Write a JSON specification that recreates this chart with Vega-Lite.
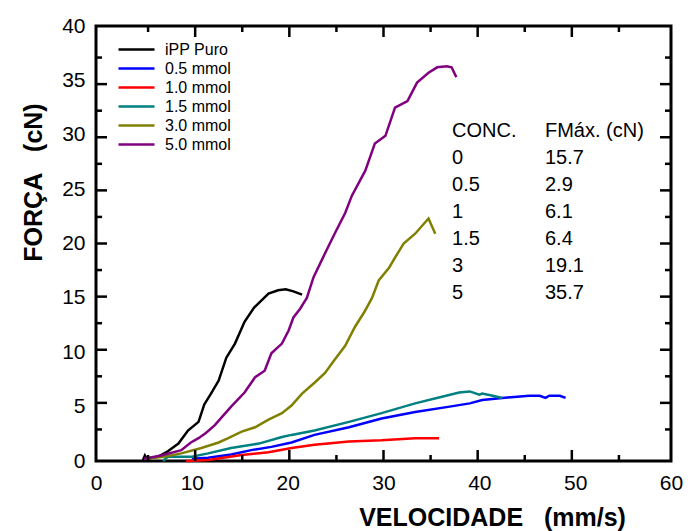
{
  "$schema": "https://vega.github.io/schema/vega-lite/v6.json",
  "width": 575,
  "height": 435,
  "autosize": {"type": "none"},
  "padding": {"left": 96, "top": 26, "right": 17, "bottom": 70},
  "background": "white",
  "config": {
    "view": {"stroke": "black", "strokeWidth": 3},
    "font": "Liberation Sans",
    "axis": {
      "domain": false,
      "grid": false,
      "ticks": false,
      "labelColor": "black",
      "labelFont": "Liberation Sans",
      "labelFontSize": 21,
      "labelPadding": 11,
      "titleFont": "Liberation Sans",
      "titleColor": "black",
      "titleFontSize": 25,
      "titleFontWeight": "bold"
    }
  },
  "datasets": {
    "curves": [
      {"s": "iPP Puro", "v": 4.9, "f": 0.1}, {"s": "iPP Puro", "v": 5.1, "f": 0.5}, {"s": "iPP Puro", "v": 5.3, "f": 0.2},
      {"s": "iPP Puro", "v": 6.5, "f": 0.4}, {"s": "iPP Puro", "v": 7.5, "f": 0.9}, {"s": "iPP Puro", "v": 8.6, "f": 1.6},
      {"s": "iPP Puro", "v": 9.6, "f": 2.8}, {"s": "iPP Puro", "v": 10.7, "f": 3.6}, {"s": "iPP Puro", "v": 11.3, "f": 5.2},
      {"s": "iPP Puro", "v": 12.0, "f": 6.2}, {"s": "iPP Puro", "v": 12.8, "f": 7.4}, {"s": "iPP Puro", "v": 13.6, "f": 9.5},
      {"s": "iPP Puro", "v": 14.5, "f": 10.8}, {"s": "iPP Puro", "v": 15.5, "f": 12.8}, {"s": "iPP Puro", "v": 16.5, "f": 14.1},
      {"s": "iPP Puro", "v": 17.3, "f": 14.8}, {"s": "iPP Puro", "v": 18.0, "f": 15.4}, {"s": "iPP Puro", "v": 19.0, "f": 15.7},
      {"s": "iPP Puro", "v": 19.8, "f": 15.8}, {"s": "iPP Puro", "v": 20.6, "f": 15.6}, {"s": "iPP Puro", "v": 21.5, "f": 15.3},

      {"s": "0.5 mmol", "v": 10.0, "f": 0.2}, {"s": "0.5 mmol", "v": 11.7, "f": 0.3}, {"s": "0.5 mmol", "v": 14.1, "f": 0.6},
      {"s": "0.5 mmol", "v": 16.2, "f": 1.0}, {"s": "0.5 mmol", "v": 18.3, "f": 1.3}, {"s": "0.5 mmol", "v": 20.4, "f": 1.7},
      {"s": "0.5 mmol", "v": 22.8, "f": 2.4}, {"s": "0.5 mmol", "v": 26.4, "f": 3.1}, {"s": "0.5 mmol", "v": 29.8, "f": 3.9},
      {"s": "0.5 mmol", "v": 33.3, "f": 4.5}, {"s": "0.5 mmol", "v": 36.9, "f": 5.0}, {"s": "0.5 mmol", "v": 39.0, "f": 5.3},
      {"s": "0.5 mmol", "v": 40.3, "f": 5.6}, {"s": "0.5 mmol", "v": 42.4, "f": 5.8}, {"s": "0.5 mmol", "v": 45.2, "f": 6.0},
      {"s": "0.5 mmol", "v": 46.3, "f": 6.0}, {"s": "0.5 mmol", "v": 46.9, "f": 5.8}, {"s": "0.5 mmol", "v": 47.3, "f": 6.0},
      {"s": "0.5 mmol", "v": 48.4, "f": 6.0}, {"s": "0.5 mmol", "v": 49.0, "f": 5.8},

      {"s": "1.0 mmol", "v": 9.4, "f": 0.0}, {"s": "1.0 mmol", "v": 11.7, "f": 0.1}, {"s": "1.0 mmol", "v": 15.2, "f": 0.55},
      {"s": "1.0 mmol", "v": 18.0, "f": 0.8}, {"s": "1.0 mmol", "v": 20.4, "f": 1.2}, {"s": "1.0 mmol", "v": 22.8, "f": 1.5},
      {"s": "1.0 mmol", "v": 26.4, "f": 1.8}, {"s": "1.0 mmol", "v": 29.8, "f": 1.9}, {"s": "1.0 mmol", "v": 33.3, "f": 2.1},
      {"s": "1.0 mmol", "v": 35.8, "f": 2.1},

      {"s": "1.5 mmol", "v": 7.0, "f": 0.0}, {"s": "1.5 mmol", "v": 7.5, "f": 0.4}, {"s": "1.5 mmol", "v": 10.0, "f": 0.4},
      {"s": "1.5 mmol", "v": 11.7, "f": 0.7}, {"s": "1.5 mmol", "v": 14.1, "f": 1.2}, {"s": "1.5 mmol", "v": 17.0, "f": 1.6},
      {"s": "1.5 mmol", "v": 19.4, "f": 2.2}, {"s": "1.5 mmol", "v": 20.4, "f": 2.4}, {"s": "1.5 mmol", "v": 22.8, "f": 2.8},
      {"s": "1.5 mmol", "v": 26.4, "f": 3.6}, {"s": "1.5 mmol", "v": 29.8, "f": 4.4}, {"s": "1.5 mmol", "v": 33.3, "f": 5.3},
      {"s": "1.5 mmol", "v": 36.1, "f": 5.9}, {"s": "1.5 mmol", "v": 37.9, "f": 6.3}, {"s": "1.5 mmol", "v": 39.0, "f": 6.4},
      {"s": "1.5 mmol", "v": 40.0, "f": 6.1}, {"s": "1.5 mmol", "v": 40.3, "f": 6.2}, {"s": "1.5 mmol", "v": 41.4, "f": 6.0},
      {"s": "1.5 mmol", "v": 42.4, "f": 5.8},

      {"s": "3.0 mmol", "v": 5.2, "f": 0.2}, {"s": "3.0 mmol", "v": 7.1, "f": 0.4}, {"s": "3.0 mmol", "v": 8.9, "f": 0.7},
      {"s": "3.0 mmol", "v": 11.0, "f": 1.2}, {"s": "3.0 mmol", "v": 12.8, "f": 1.7}, {"s": "3.0 mmol", "v": 13.8, "f": 2.1},
      {"s": "3.0 mmol", "v": 15.2, "f": 2.7}, {"s": "3.0 mmol", "v": 16.6, "f": 3.1}, {"s": "3.0 mmol", "v": 18.0, "f": 3.8},
      {"s": "3.0 mmol", "v": 19.4, "f": 4.4}, {"s": "3.0 mmol", "v": 20.4, "f": 5.1}, {"s": "3.0 mmol", "v": 21.5, "f": 6.2},
      {"s": "3.0 mmol", "v": 22.8, "f": 7.2}, {"s": "3.0 mmol", "v": 23.9, "f": 8.1}, {"s": "3.0 mmol", "v": 24.9, "f": 9.3},
      {"s": "3.0 mmol", "v": 26.0, "f": 10.6}, {"s": "3.0 mmol", "v": 27.0, "f": 12.3}, {"s": "3.0 mmol", "v": 28.0, "f": 13.7},
      {"s": "3.0 mmol", "v": 28.8, "f": 15.0}, {"s": "3.0 mmol", "v": 29.5, "f": 16.6}, {"s": "3.0 mmol", "v": 30.6, "f": 17.8},
      {"s": "3.0 mmol", "v": 31.2, "f": 18.7}, {"s": "3.0 mmol", "v": 32.1, "f": 20.0}, {"s": "3.0 mmol", "v": 33.3, "f": 20.9},
      {"s": "3.0 mmol", "v": 34.7, "f": 22.3}, {"s": "3.0 mmol", "v": 35.4, "f": 20.9},

      {"s": "5.0 mmol", "v": 5.0, "f": 0.2}, {"s": "5.0 mmol", "v": 6.8, "f": 0.5}, {"s": "5.0 mmol", "v": 8.9, "f": 1.0},
      {"s": "5.0 mmol", "v": 9.9, "f": 1.7}, {"s": "5.0 mmol", "v": 10.7, "f": 2.1}, {"s": "5.0 mmol", "v": 11.5, "f": 2.6},
      {"s": "5.0 mmol", "v": 12.4, "f": 3.3}, {"s": "5.0 mmol", "v": 13.2, "f": 4.1}, {"s": "5.0 mmol", "v": 14.1, "f": 5.0},
      {"s": "5.0 mmol", "v": 15.5, "f": 6.3}, {"s": "5.0 mmol", "v": 16.6, "f": 7.7}, {"s": "5.0 mmol", "v": 17.6, "f": 8.3},
      {"s": "5.0 mmol", "v": 18.3, "f": 9.9}, {"s": "5.0 mmol", "v": 19.4, "f": 10.8}, {"s": "5.0 mmol", "v": 20.1, "f": 12.0},
      {"s": "5.0 mmol", "v": 20.6, "f": 13.2}, {"s": "5.0 mmol", "v": 21.3, "f": 14.0}, {"s": "5.0 mmol", "v": 22.0, "f": 15.0},
      {"s": "5.0 mmol", "v": 22.7, "f": 16.9}, {"s": "5.0 mmol", "v": 23.9, "f": 19.1}, {"s": "5.0 mmol", "v": 24.9, "f": 20.9},
      {"s": "5.0 mmol", "v": 26.0, "f": 22.8}, {"s": "5.0 mmol", "v": 26.7, "f": 24.4}, {"s": "5.0 mmol", "v": 28.1, "f": 26.7},
      {"s": "5.0 mmol", "v": 29.1, "f": 29.2}, {"s": "5.0 mmol", "v": 30.2, "f": 29.9}, {"s": "5.0 mmol", "v": 31.2, "f": 32.5},
      {"s": "5.0 mmol", "v": 32.5, "f": 33.1}, {"s": "5.0 mmol", "v": 33.5, "f": 34.8}, {"s": "5.0 mmol", "v": 34.7, "f": 35.7},
      {"s": "5.0 mmol", "v": 35.6, "f": 36.2}, {"s": "5.0 mmol", "v": 36.6, "f": 36.3}, {"s": "5.0 mmol", "v": 37.1, "f": 36.2},
      {"s": "5.0 mmol", "v": 37.6, "f": 35.3}
    ],
    "xt": [
      {"v": 5, "k": "minor"}, {"v": 10, "k": "major"}, {"v": 15, "k": "minor"}, {"v": 20, "k": "major"},
      {"v": 25, "k": "minor"}, {"v": 30, "k": "major"}, {"v": 35, "k": "minor"}, {"v": 40, "k": "major"},
      {"v": 45, "k": "minor"}, {"v": 50, "k": "major"}, {"v": 55, "k": "minor"}
    ],
    "yt": [
      {"f": 2.5, "k": "minor"}, {"f": 5, "k": "major"}, {"f": 7.5, "k": "minor"}, {"f": 10, "k": "major"},
      {"f": 12.5, "k": "minor"}, {"f": 15, "k": "major"}, {"f": 17.5, "k": "minor"}, {"f": 20, "k": "major"},
      {"f": 22.5, "k": "minor"}, {"f": 25, "k": "major"}, {"f": 27.5, "k": "minor"}, {"f": 30, "k": "major"},
      {"f": 32.5, "k": "minor"}, {"f": 35, "k": "major"}, {"f": 37.5, "k": "minor"}
    ],
    "table": [
      {"row": 0, "c": "CONC.", "m": "FMáx. (cN)"},
      {"row": 1, "c": "0", "m": "15.7"},
      {"row": 2, "c": "0.5", "m": "2.9"},
      {"row": 3, "c": "1", "m": "6.1"},
      {"row": 4, "c": "1.5", "m": "6.4"},
      {"row": 5, "c": "3", "m": "19.1"},
      {"row": 6, "c": "5", "m": "35.7"}
    ]
  },
  "layer": [
    {
      "data": {"name": "curves"},
      "mark": {"type": "line", "strokeWidth": 2.5},
      "encoding": {
        "x": {
          "field": "v", "type": "quantitative",
          "scale": {"domain": [0, 60], "nice": false},
          "axis": {
            "orient": "bottom",
            "values": [0, 10, 20, 30, 40, 50, 60],
            "labelFlush": false,
            "labelOverlap": false,
            "title": "VELOCIDADE\u00a0\u00a0\u00a0(mm/s)",
            "titleX": 396,
            "titleY": 64,
            "titleAlign": "center",
            "titleBaseline": "alphabetic"
          }
        },
        "y": {
          "field": "f", "type": "quantitative",
          "scale": {"domain": [0, 40], "nice": false},
          "axis": {
            "orient": "left",
            "values": [0, 5, 10, 15, 20, 25, 30, 35, 40],
            "labelFlush": false,
            "labelOverlap": false,
            "title": "FORÇA\u00a0\u00a0\u00a0(cN)",
            "titleX": -63,
            "titleY": 156,
            "titleAngle": -90,
            "titleAlign": "center",
            "titleBaseline": "middle"
          }
        },
        "color": {
          "field": "s", "type": "nominal",
          "scale": {
            "domain": ["iPP Puro", "0.5 mmol", "1.0 mmol", "1.5 mmol", "3.0 mmol", "5.0 mmol"],
            "range": ["#000000", "#0000ff", "#ff0000", "#008080", "#808000", "#800080"]
          },
          "legend": {
            "orient": "none",
            "legendX": 30,
            "legendY": 13,
            "title": null,
            "padding": 0,
            "symbolType": "M-2,0H2",
            "symbolSize": 324,
            "symbolStrokeWidth": 2.5,
            "labelFontSize": 16,
            "labelFont": "Liberation Sans",
            "labelColor": "black",
            "labelOffset": 18,
            "rowPadding": 0
          }
        }
      }
    },
    {
      "data": {"name": "xt"},
      "transform": [{"filter": {"field": "k", "equal": "major"}}],
      "mark": {"type": "bar", "size": 2.5, "color": "black"},
      "encoding": {
        "x": {"field": "v", "type": "quantitative", "scale": {"domain": [0, 60], "nice": false}, "axis": null},
        "y": {"datum": 0, "type": "quantitative", "scale": {"domain": [0, 40], "nice": false}, "axis": null},
        "y2": {"datum": 1.01}
      }
    },
    {
      "data": {"name": "xt"},
      "transform": [{"filter": {"field": "k", "equal": "minor"}}],
      "mark": {"type": "bar", "size": 2.5, "color": "black"},
      "encoding": {
        "x": {"field": "v", "type": "quantitative", "scale": {"domain": [0, 60], "nice": false}, "axis": null},
        "y": {"datum": 0, "type": "quantitative", "scale": {"domain": [0, 40], "nice": false}, "axis": null},
        "y2": {"datum": 0.55}
      }
    },
    {
      "data": {"name": "xt"},
      "transform": [{"filter": {"field": "k", "equal": "major"}}],
      "mark": {"type": "bar", "size": 2.5, "color": "black"},
      "encoding": {
        "x": {"field": "v", "type": "quantitative", "scale": {"domain": [0, 60], "nice": false}, "axis": null},
        "y": {"datum": 38.99, "type": "quantitative", "scale": {"domain": [0, 40], "nice": false}, "axis": null},
        "y2": {"datum": 40}
      }
    },
    {
      "data": {"name": "xt"},
      "transform": [{"filter": {"field": "k", "equal": "minor"}}],
      "mark": {"type": "bar", "size": 2.5, "color": "black"},
      "encoding": {
        "x": {"field": "v", "type": "quantitative", "scale": {"domain": [0, 60], "nice": false}, "axis": null},
        "y": {"datum": 39.45, "type": "quantitative", "scale": {"domain": [0, 40], "nice": false}, "axis": null},
        "y2": {"datum": 40}
      }
    },
    {
      "data": {"name": "yt"},
      "transform": [{"filter": {"field": "k", "equal": "major"}}],
      "mark": {"type": "bar", "size": 2.5, "color": "black"},
      "encoding": {
        "y": {"field": "f", "type": "quantitative", "scale": {"domain": [0, 40], "nice": false}, "axis": null},
        "x": {"datum": 0, "type": "quantitative", "scale": {"domain": [0, 60], "nice": false}, "axis": null},
        "x2": {"datum": 1.15}
      }
    },
    {
      "data": {"name": "yt"},
      "transform": [{"filter": {"field": "k", "equal": "minor"}}],
      "mark": {"type": "bar", "size": 2.5, "color": "black"},
      "encoding": {
        "y": {"field": "f", "type": "quantitative", "scale": {"domain": [0, 40], "nice": false}, "axis": null},
        "x": {"datum": 0, "type": "quantitative", "scale": {"domain": [0, 60], "nice": false}, "axis": null},
        "x2": {"datum": 0.63}
      }
    },
    {
      "data": {"name": "yt"},
      "transform": [{"filter": {"field": "k", "equal": "major"}}],
      "mark": {"type": "bar", "size": 2.5, "color": "black"},
      "encoding": {
        "y": {"field": "f", "type": "quantitative", "scale": {"domain": [0, 40], "nice": false}, "axis": null},
        "x": {"datum": 58.85, "type": "quantitative", "scale": {"domain": [0, 60], "nice": false}, "axis": null},
        "x2": {"datum": 60}
      }
    },
    {
      "data": {"name": "yt"},
      "transform": [{"filter": {"field": "k", "equal": "minor"}}],
      "mark": {"type": "bar", "size": 2.5, "color": "black"},
      "encoding": {
        "y": {"field": "f", "type": "quantitative", "scale": {"domain": [0, 40], "nice": false}, "axis": null},
        "x": {"datum": 59.37, "type": "quantitative", "scale": {"domain": [0, 60], "nice": false}, "axis": null},
        "x2": {"datum": 60}
      }
    },
    {
      "data": {"name": "table"},
      "mark": {"type": "text", "align": "left", "baseline": "middle", "fontSize": 20, "font": "Liberation Sans", "color": "black"},
      "encoding": {
        "x": {"datum": 37.15, "type": "quantitative", "scale": {"domain": [0, 60], "nice": false}, "axis": null},
        "y": {"field": "row", "type": "quantitative", "scale": {"domain": [-3.889, 12.222], "reverse": true, "nice": false, "zero": false}, "axis": null},
        "text": {"field": "c"}
      }
    },
    {
      "data": {"name": "table"},
      "mark": {"type": "text", "align": "left", "baseline": "middle", "fontSize": 20, "font": "Liberation Sans", "color": "black"},
      "encoding": {
        "x": {"datum": 46.85, "type": "quantitative", "scale": {"domain": [0, 60], "nice": false}, "axis": null},
        "y": {"field": "row", "type": "quantitative", "scale": {"domain": [-3.889, 12.222], "reverse": true, "nice": false, "zero": false}, "axis": null},
        "text": {"field": "m"}
      }
    }
  ],
  "resolve": {"scale": {"x": "independent", "y": "independent"}}
}
